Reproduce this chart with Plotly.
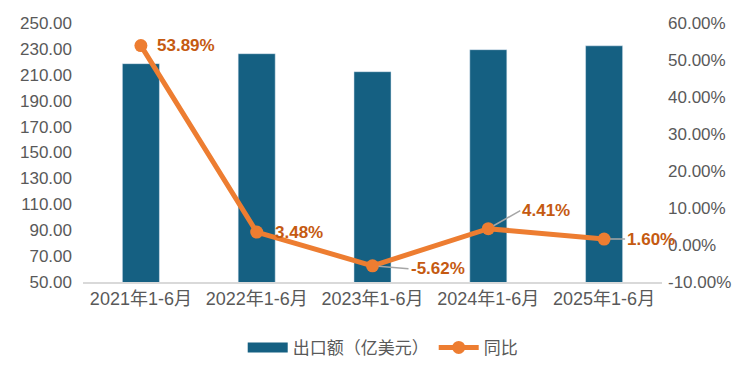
import plotly.graph_objects as go

categories = ["2021年1-6月", "2022年1-6月", "2023年1-6月", "2024年1-6月", "2025年1-6月"]
export_values = [218.6, 226.3, 212.4, 229.4, 232.4]
yoy_pct = [53.89, 3.48, -5.62, 4.41, 1.60]
yoy_labels = ["53.89%", "3.48%", "-5.62%", "4.41%", "1.60%"]
left_ticks = [50, 70, 90, 110, 130, 150, 170, 190, 210, 230, 250]
right_ticks = [-10, 0, 10, 20, 30, 40, 50, 60]

FONT = "Liberation Sans, Arial, Noto Sans CJK SC, sans-serif"
GRAY = "#595959"
BAR_COLOR = "#156082"
LINE_COLOR = "#ED7D31"

fig = go.Figure()
fig.add_trace(go.Bar(
    x=categories, y=export_values, name="出口额（亿美元）",
    marker=dict(color=BAR_COLOR), width=0.32, yaxis="y", showlegend=False,
))
# legend-only entry drawn as a wide rectangle like the reference legend key
fig.add_trace(go.Scatter(
    x=[None], y=[None], name="出口额（亿美元）", mode="lines",
    line=dict(color=BAR_COLOR, width=10), hoverinfo="skip",
))
fig.add_trace(go.Scatter(
    x=categories, y=yoy_pct, name="同比", yaxis="y2",
    mode="lines+markers",
    line=dict(color=LINE_COLOR, width=5),
    marker=dict(color=LINE_COLOR, size=13),
))

# label offsets (pixels) for each data label: (ax, ay, leader line)
offsets = [(14, 0, False), (16, 0, False), (36, 3, True), (32, -18, True), (21, 0, True)]
for cat, v, lab, (ax, ay, lead) in zip(categories, yoy_pct, yoy_labels, offsets):
    if lead:
        fig.add_annotation(
            x=cat, y=v, xref="x", yref="y2", text=lab,
            showarrow=True, ax=ax, ay=ay, xanchor="left", yanchor="middle",
            arrowhead=0, arrowwidth=1.5, arrowcolor="#A6A6A6", standoff=6,
            font=dict(family=FONT, size=17, color="#C55A11", weight="bold"),
        )
    else:
        fig.add_annotation(
            x=cat, y=v, xref="x", yref="y2", text=lab,
            showarrow=False, xanchor="left", yanchor="middle", xshift=ax,
            font=dict(family=FONT, size=17, color="#C55A11", weight="bold"),
        )

fig.update_layout(
    width=742, height=369,
    margin=dict(l=75, r=88, t=15, b=95),
    paper_bgcolor="white", plot_bgcolor="white",
    font=dict(family=FONT, size=17, color=GRAY),
    showlegend=True,
    legend=dict(orientation="h", xref="container", yref="container",
                x=0.505, xanchor="center", y=0.079, yanchor="middle",
                font=dict(family=FONT, size=17, color=GRAY), itemwidth=40,
                traceorder="normal"),
    xaxis=dict(type="category", range=[-0.5, 4.5], autorange=False,
               showgrid=False, showline=True, linecolor="#D9D9D9",
               linewidth=1.5, ticks="", automargin=False,
               tickfont=dict(size=18, color=GRAY)),
    yaxis=dict(range=[50, 250], tickvals=left_ticks, tickformat=".2f", showgrid=False,
               zeroline=False, showline=False, ticks="", automargin=False,
               ticklabelstandoff=10,
               tickfont=dict(size=17, color=GRAY)),
    yaxis2=dict(range=[-10, 60], tickvals=right_ticks,
                ticktext=[f"{t:.2f}%" for t in right_ticks],
                overlaying="y", side="right", showgrid=False, zeroline=False,
                showline=False, ticks="", automargin=False,
                ticklabelstandoff=5,
                tickfont=dict(size=17, color=GRAY)),
)

fig.write_html("out.html")
